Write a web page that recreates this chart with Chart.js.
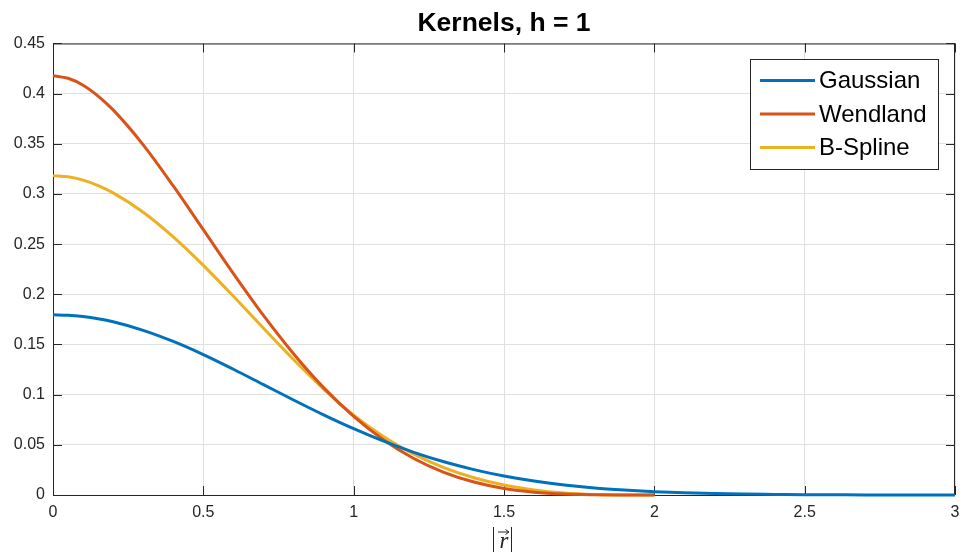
<!DOCTYPE html>
<html>
<head>
<meta charset="utf-8">
<script src="https://cdn.jsdelivr.net/npm/chart.js@4/dist/chart.umd.min.js"></script>
<style>
  html, body { margin: 0; padding: 0; background: #fff; }
  #wrap { width: 964px; height: 557px; }
</style>
</head>
<body>
<div id="wrap"><canvas id="kernelChart" width="964" height="557"></canvas></div>
<script>
const radius = [0, 0.05, 0.1, 0.15, 0.2, 0.3, 0.4, 0.5, 0.6, 0.7, 0.8, 0.9, 1, 1.1, 1.2, 1.3, 1.4, 1.5,
  1.6, 1.7, 1.8, 1.9, 2, 2.1, 2.2, 2.3, 2.4, 2.5, 2.6, 2.7, 2.8, 2.9, 3];
const gaussian = [0.1796, 0.1792, 0.1778, 0.1756, 0.1726, 0.1641, 0.1530, 0.1399, 0.1253, 0.1100, 0.0947, 0.0799,
  0.0661, 0.0536, 0.0425, 0.0331, 0.0253, 0.0189, 0.0139, 0.0100, 0.0070, 0.0049,
  0.0033, 0.0022, 0.0014, 0.0009, 0.0006, 0.0003, 0.0002, 0.0001, 0.0001, 0.0000, 0.0000];
const wendland = [0.4178, 0.4153, 0.4084, 0.3976, 0.3838, 0.3490, 0.3080, 0.2644, 0.2207, 0.1790, 0.1408, 0.1070,
  0.0783, 0.0548, 0.0364, 0.0226, 0.0129, 0.0065, 0.0028, 0.0009, 0.0002, 0.0000, 0];
const bspline = [0.3183, 0.3171, 0.3138, 0.3084, 0.3011, 0.2818, 0.2572, 0.2288, 0.1980, 0.1662, 0.1350, 0.1056,
  0.0796, 0.0580, 0.0407, 0.0273, 0.0172, 0.0099, 0.0051, 0.0021, 0.0006, 0.0001, 0];
const seriesNames = ["Gaussian", "Wendland", "B-Spline"];
const seriesColors = ["#0072BD", "#D95319", "#EDB120"];

const axisColor = "#262626";
const fontFamily = '"Liberation Sans", Arial, Helvetica, sans-serif';

const toPoints = (vals) => vals.map((v, i) => ({ x: radius[i], y: v }));
const tickText = (v) => String(+Number(v).toFixed(2));

// MATLAB style box with ticks pointing inwards
const boxPlugin = {
  id: "box",
  beforeDatasetsDraw(chart) {
    const { ctx, chartArea: a, scales } = chart;
    ctx.save();
    ctx.strokeStyle = axisColor;
    ctx.lineWidth = 1;
    ctx.strokeRect(a.left + 0.5, a.top + 0.5, a.right - a.left - 1, a.bottom - a.top);
    ctx.beginPath();
    scales.x.ticks.forEach((t) => {
      const px = Math.round(scales.x.getPixelForValue(t.value)) + 0.5;
      ctx.moveTo(px, a.bottom); ctx.lineTo(px, a.bottom - 9);
      ctx.moveTo(px, a.top); ctx.lineTo(px, a.top + 9);
    });
    scales.y.ticks.forEach((t) => {
      const py = Math.round(scales.y.getPixelForValue(t.value)) + 0.5;
      ctx.moveTo(a.left, py); ctx.lineTo(a.left + 9, py);
      ctx.moveTo(a.right, py); ctx.lineTo(a.right - 9, py);
    });
    ctx.stroke();
    ctx.restore();
  },
  afterDraw(chart) {
    const { ctx, chartArea: a } = chart;
    ctx.save();
    // legend box
    const bx = 750, by = 59, bw = 188, bh = 110;
    ctx.fillStyle = "#fff";
    ctx.fillRect(bx, by, bw, bh);
    ctx.strokeStyle = axisColor;
    ctx.lineWidth = 1;
    ctx.strokeRect(bx + 0.5, by + 0.5, bw, bh);
    ctx.font = "24px " + fontFamily;
    ctx.textBaseline = "middle";
    chart.data.datasets.forEach((ds, i) => {
      const y = 80.5 + i * 33.5;
      ctx.strokeStyle = ds.borderColor;
      ctx.lineWidth = 3;
      ctx.beginPath();
      ctx.moveTo(760, y); ctx.lineTo(815, y);
      ctx.stroke();
      ctx.fillStyle = "#000";
      ctx.fillText(ds.label, 819, y + 1);
    });
    // x axis label |r|
    const cx = (a.left + a.right) / 2;
    ctx.strokeStyle = axisColor;
    ctx.lineWidth = 1;
    ctx.beginPath();
    ctx.moveTo(493.5, 527); ctx.lineTo(493.5, 552);
    ctx.moveTo(511.5, 527); ctx.lineTo(511.5, 552);
    ctx.moveTo(498, 532); ctx.lineTo(509, 532);
    ctx.moveTo(505.5, 529.5); ctx.lineTo(509, 532); ctx.lineTo(505.5, 534.5);
    ctx.stroke();
    ctx.fillStyle = axisColor;
    ctx.font = 'italic 23px "Liberation Serif", "DejaVu Serif", serif';
    ctx.textAlign = "center";
    ctx.textBaseline = "alphabetic";
    ctx.fillText("r", cx, 548);
    ctx.restore();
  },
};

const ctx = document.getElementById("kernelChart").getContext("2d");
const kernelChart = new Chart(ctx, {
  type: "line",
  data: {
    datasets: [
      { label: seriesNames[0], data: toPoints(gaussian), borderColor: seriesColors[0] },
      { label: seriesNames[1], data: toPoints(wendland), borderColor: seriesColors[1] },
      { label: seriesNames[2], data: toPoints(bspline), borderColor: seriesColors[2] },
    ],
  },
  options: {
    responsive: false,
    animation: false,
    parsing: false,
    layout: { padding: { left: 0, right: 9, top: 0, bottom: 0 } },
    elements: {
      line: { borderWidth: 3, cubicInterpolationMode: "monotone", fill: false },
      point: { radius: 0 },
    },
    datasets: { line: { clip: 4 } },
    plugins: {
      legend: { display: false },
      tooltip: { enabled: false },
      title: {
        display: true,
        fullSize: false,
        text: "Kernels, h = 1",
        color: "#000",
        font: { family: fontFamily, size: 26.5, weight: "bold", lineHeight: 1.15 },
        padding: { top: 8, bottom: 5 },
      },
    },
    scales: {
      x: {
        type: "linear",
        min: 0,
        max: 3,
        ticks: { stepSize: 0.5, color: axisColor, padding: 8, callback: tickText,
          font: { family: fontFamily, size: 16 } },
        grid: { color: "#e0e0e0", drawTicks: false },
        border: { display: false },
        afterFit: (s) => { s.height = 62; s.paddingLeft = 0; s.paddingRight = 0; },
      },
      y: {
        min: 0,
        max: 0.45,
        ticks: { stepSize: 0.05, color: axisColor, padding: 8, callback: tickText,
          font: { family: fontFamily, size: 16 } },
        grid: { color: "#e0e0e0", drawTicks: false },
        border: { display: false },
        afterFit: (s) => { s.width = 53; s.paddingTop = 0; s.paddingBottom = 0; },
      },
    },
  },
  plugins: [boxPlugin],
});
</script>
</body>
</html>
